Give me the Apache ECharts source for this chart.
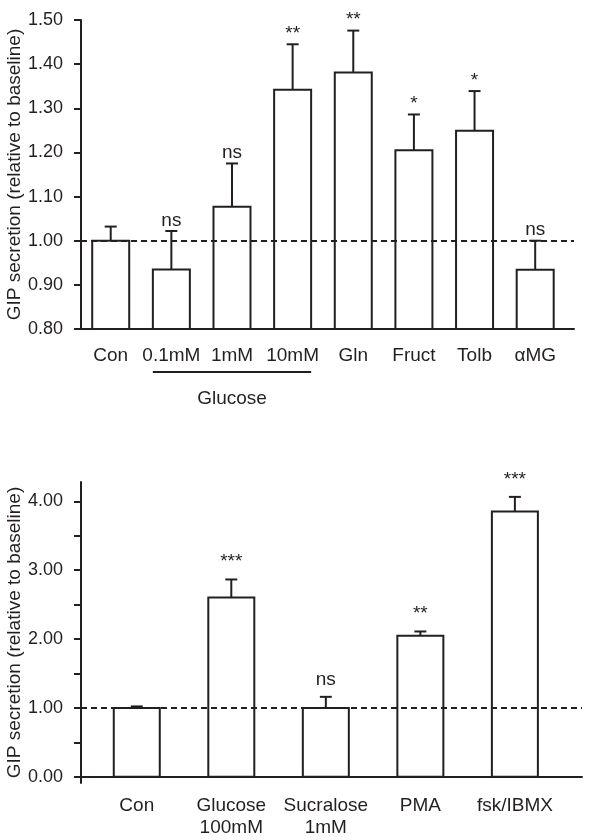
<!DOCTYPE html>
<html>
<head>
<meta charset="utf-8">
<script src="https://cdn.jsdelivr.net/npm/echarts@6/dist/echarts.min.js"></script>
<style>
html,body{margin:0;padding:0;background:#fff;}
#chart{width:592px;height:840px;}
</style>
</head>
<body>
<div id="chart"></div>
<script>
// ---- Top panel data ----
var topCategories = ['Con', '0.1mM', '1mM', '10mM', 'Gln', 'Fruct', 'Tolb', '\u03b1MG'];
var topValues = [1.00, 0.935, 1.077, 1.342, 1.381, 1.205, 1.249, 0.934];
var topErrTop = [1.032, 1.022, 1.175, 1.445, 1.476, 1.286, 1.339, 1.000];
var topSig = ['', 'ns', 'ns', '**', '**', '*', '*', 'ns'];
var topYTicks = [0.8, 0.9, 1.0, 1.1, 1.2, 1.3, 1.4, 1.5];
var groupLabel = 'Glucose';
var groupStart = 1, groupEnd = 3;

// ---- Bottom panel data ----
var botCategories = ['Con', 'Glucose\n100mM', 'Sucralose\n1mM', 'PMA', 'fsk/IBMX'];
var botValues = [1.00, 2.604, 1.00, 2.047, 3.852];
var botErrTop = [1.022, 2.865, 1.161, 2.11, 4.064];
var botSig = ['', '***', 'ns', '**', '***'];
var botYLabels = [0, 1, 2, 3, 4];
var botYTicks = [0, 0.5, 1, 1.5, 2, 2.5, 3, 3.5, 4];

var baseline = 1.0;
var yTitle = 'GIP secretion (relative to baseline)';

var FONT = '"Liberation Sans", Arial, sans-serif';
var INK = '#231f20';

function idx(arr) { return arr.map(function (_, i) { return i; }); }
function seriesData(vals, tops, sig) { return vals.map(function (v, i) { return [i, v, tops[i], sig[i]]; }); }

function barRender(barW) {
  return function (params, api) {
    var x = api.value(0);
    var p = api.coord([x, api.value(1)]);
    var cs = params.coordSys;
    var gridBottom = cs.y + cs.height;
    var zeroY = api.coord([x, 0])[1];
    var base = Math.min(zeroY, gridBottom);
    return {
      type: 'rect',
      shape: {x: p[0] - barW / 2, y: p[1], width: barW, height: base - p[1]},
      style: {fill: '#fff', stroke: INK, lineWidth: 2}
    };
  };
}

function errRender(params, api) {
  var x = api.value(0);
  var p0 = api.coord([x, api.value(1)]);
  var p1 = api.coord([x, api.value(2)]);
  var children = [];
  if (Math.abs(p0[1] - p1[1]) > 0.5) {
    children.push({type: 'line', shape: {x1: p0[0], y1: p0[1], x2: p1[0], y2: p1[1]}, style: {stroke: INK, lineWidth: 2}});
  }
  children.push({type: 'line', shape: {x1: p1[0] - 6, y1: p1[1], x2: p1[0] + 6, y2: p1[1]}, style: {stroke: INK, lineWidth: 2}});
  return {type: 'group', children: children};
}

function sigRender(gap) {
  return function (params, api) {
    var x = api.value(0);
    var p1 = api.coord([x, api.value(2)]);
    return {
      type: 'text',
      style: {
        text: api.value(3),
        x: p1[0], y: p1[1] - gap,
        align: 'center', verticalAlign: 'bottom',
        fill: INK, fontSize: 19, fontFamily: FONT
      }
    };
  };
}

var dashed = {
  silent: true, symbol: 'none', label: {show: false},
  lineStyle: {color: INK, type: [6, 4], width: 2},
  data: [{yAxis: baseline}]
};

var chart = echarts.init(document.getElementById('chart'), null, {renderer: 'canvas'});

var option = {
  backgroundColor: '#fff',
  animation: false,
  textStyle: {fontFamily: FONT, color: INK},
  grid: [
    {left: 81, right: 18, top: 20, height: 309, containLabel: false, outerBoundsMode: 'none'},
    {left: 81, right: 10, top: 482, height: 301, containLabel: false, outerBoundsMode: 'none'}
  ],
  xAxis: [
    {
      gridIndex: 0, type: 'value', min: -0.49, max: 7.64,
      splitLine: {show: false},
      axisLine: {show: true, onZero: false, lineStyle: {color: INK, width: 2}},
      axisTick: {show: false},
      axisLabel: {
        customValues: idx(topCategories),
        formatter: function (v) { return topCategories[Math.round(v)]; },
        color: INK, fontSize: 19, fontFamily: FONT, margin: 17
      }
    },
    {
      gridIndex: 1, type: 'value', min: -0.59, max: 4.71,
      splitLine: {show: false},
      axisLine: {show: true, onZero: true, lineStyle: {color: INK, width: 2}},
      axisTick: {show: false},
      axisLabel: {
        customValues: idx(botCategories),
        formatter: function (v) { return botCategories[Math.round(v)]; },
        color: INK, fontSize: 19, fontFamily: FONT, margin: 12, lineHeight: 22
      }
    }
  ],
  yAxis: [
    {
      gridIndex: 0, type: 'value', min: 0.8, max: 1.5,
      splitLine: {show: false},
      axisLine: {show: true, onZero: false, lineStyle: {color: INK, width: 2}},
      axisTick: {show: true, customValues: topYTicks, length: 7, lineStyle: {color: INK, width: 2}},
      axisLabel: {customValues: topYTicks, formatter: function (v) { return v.toFixed(2); },
        color: INK, fontSize: 18, fontFamily: FONT, margin: 18},
      name: yTitle, nameLocation: 'middle', nameGap: 57, nameMoveOverlap: false,
      nameTextStyle: {color: INK, fontSize: 19, fontFamily: FONT}
    },
    {
      gridIndex: 1, type: 'value', min: -0.09, max: 4.28,
      splitLine: {show: false},
      axisLine: {show: true, onZero: false, lineStyle: {color: INK, width: 2}},
      axisTick: {show: true, customValues: botYTicks, length: 7, lineStyle: {color: INK, width: 2}},
      axisLabel: {customValues: botYLabels, formatter: function (v) { return v.toFixed(2); },
        color: INK, fontSize: 18, fontFamily: FONT, margin: 18},
      name: yTitle, nameLocation: 'middle', nameGap: 57, nameMoveOverlap: false,
      nameTextStyle: {color: INK, fontSize: 19, fontFamily: FONT}
    }
  ],
  series: [
    {
      type: 'custom', xAxisIndex: 0, yAxisIndex: 0, z: 2, clip: true,
      renderItem: barRender(37), data: seriesData(topValues, topErrTop, topSig),
      markLine: dashed
    },
    {
      type: 'custom', xAxisIndex: 0, yAxisIndex: 0, z: 3,
      renderItem: errRender, data: seriesData(topValues, topErrTop, topSig)
    },
    {
      type: 'custom', xAxisIndex: 0, yAxisIndex: 0, z: 3,
      renderItem: sigRender(1), data: seriesData(topValues, topErrTop, topSig)
    },
    {
      type: 'custom', xAxisIndex: 1, yAxisIndex: 1, z: 2,
      renderItem: barRender(46), data: seriesData(botValues, botErrTop, botSig),
      markLine: dashed
    },
    {
      type: 'custom', xAxisIndex: 1, yAxisIndex: 1, z: 3,
      renderItem: errRender, data: seriesData(botValues, botErrTop, botSig)
    },
    {
      type: 'custom', xAxisIndex: 1, yAxisIndex: 1, z: 3,
      renderItem: sigRender(8), data: seriesData(botValues, botErrTop, botSig)
    }
  ]
};
chart.setOption(option);

// Group bracket under the glucose concentrations
var half = 37 / 2;
var pL = chart.convertToPixel({xAxisIndex: 0, yAxisIndex: 0}, [groupStart, 0.8]);
var pR = chart.convertToPixel({xAxisIndex: 0, yAxisIndex: 0}, [groupEnd, 0.8]);
chart.setOption({
  graphic: [
    {type: 'line', shape: {x1: pL[0] - half, y1: pL[1] + 43, x2: pR[0] + half, y2: pR[1] + 43},
      style: {stroke: INK, lineWidth: 2}},
    {type: 'text', x: (pL[0] + pR[0]) / 2, y: pL[1] + 70,
      style: {text: groupLabel, align: 'center', verticalAlign: 'middle', fill: INK, fontSize: 19, fontFamily: FONT}}
  ]
});
</script>
</body>
</html>
